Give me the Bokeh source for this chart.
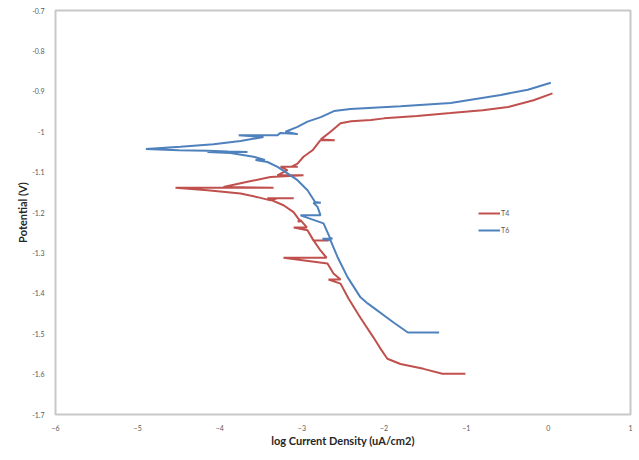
from bokeh.plotting import figure
from bokeh.models import Range1d, FixedTicker, CustomJSTickFormatter, Legend, LegendItem
from bokeh.embed import file_html
from bokeh.resources import INLINE

# T4 (red) polarization curve: log current density vs potential (V)
t4_logi = [-1.01, -1.29, -1.52, -1.80, -1.96, -2.05, -2.13, -2.29, -2.433,
           -2.530, -2.676, -2.530, -2.616, -2.689, -3.224, -2.70, -2.774, -2.859, -2.676, -2.86,
           -2.932, -3.10, -2.94, -3.017, -3.05, -3.02, -3.102, -3.224, -3.42, -3.10, -3.30,
           -3.383, -3.541, -3.748, -4.150, -4.539, -3.346, -3.955, -3.663, -3.383, -2.981,
           -3.30, -3.176, -3.26, -3.05, -3.13, -3.054, -2.981, -2.871, -2.774, -2.60, -2.77,
           -2.652, -2.530, -2.40, -2.16, -2.00, -1.60, -1.19, -0.80, -0.49, -0.18, 0.05]
t4_pot = [-1.599, -1.599, -1.587, -1.575, -1.562, -1.535, -1.509, -1.460, -1.413,
          -1.376, -1.366, -1.366, -1.351, -1.326, -1.312, -1.312, -1.294, -1.269, -1.269, -1.269,
          -1.244, -1.237, -1.237, -1.219, -1.222, -1.222, -1.199, -1.182, -1.165, -1.165, -1.165,
          -1.170, -1.162, -1.153, -1.145, -1.139, -1.139, -1.137, -1.124, -1.112, -1.108,
          -1.108, -1.095, -1.087, -1.087, -1.087, -1.079, -1.062, -1.046, -1.021, -1.021, -1.019,
          -1.000, -0.979, -0.974, -0.971, -0.967, -0.961, -0.954, -0.947, -0.939, -0.922, -0.905]

# T6 (blue)
t6_logi = [-1.33, -1.71, -1.88, -2.00, -2.08, -2.20, -2.287, -2.445, -2.567, -2.652,
           -2.75, -2.63, -2.66, -2.737, -3.017, -2.774, -2.810, -2.86, -2.77, -2.84, -2.932,
           -3.054, -3.176, -3.297, -3.419, -3.565, -3.45, -3.589, -3.869, -4.15, -3.663,
           -3.90, -4.15, -4.50, -4.90, -4.478, -4.076, -3.748, -3.468, -3.77, -3.30,
           -3.261, -3.05, -3.20, -3.054, -2.932, -2.77, -2.61, -2.41, -1.80, -1.19, -0.58,
           -0.25, 0.03]
t6_pot = [-1.497, -1.497, -1.473, -1.455, -1.443, -1.425, -1.410, -1.360, -1.310, -1.269,
          -1.265, -1.265, -1.262, -1.227, -1.207, -1.207, -1.186, -1.176, -1.176, -1.174, -1.145,
          -1.120, -1.103, -1.087, -1.075, -1.070, -1.070, -1.062, -1.053, -1.050, -1.050,
          -1.049, -1.047, -1.046, -1.043, -1.037, -1.031, -1.023, -1.013, -1.009, -1.009,
          -1.003, -1.006, -1.000, -0.988, -0.975, -0.964, -0.949, -0.944, -0.937, -0.929, -0.909,
          -0.896, -0.879]

x_ticks = [-6, -5, -4, -3, -2, -1, 0, 1]
y_ticks = [-1.7, -1.6, -1.5, -1.4, -1.3, -1.2, -1.1, -1.0, -0.9, -0.8, -0.7]
series_names = ["T4", "T6"]

RED = "#C0504D"
BLUE = "#4F81BD"
FONT = "Lato"

p = figure(width=639, height=460, output_backend="svg", toolbar_location=None,
           x_range=Range1d(-6, 1), y_range=Range1d(-1.7, -0.7),
           min_border_left=55, min_border_right=9, min_border_top=10, min_border_bottom=46)

r4 = p.line(t4_logi, t4_pot, line_color=RED, line_width=2)
r6 = p.line(t6_logi, t6_pot, line_color=BLUE, line_width=2)

p.xgrid.visible = False
p.ygrid.visible = False
p.outline_line_color = "#C8C8C8"
p.outline_line_width = 2
p.background_fill_color = "white"
p.border_fill_color = "white"

p.xaxis.ticker = FixedTicker(ticks=x_ticks)
p.yaxis.ticker = FixedTicker(ticks=y_ticks)
p.yaxis.formatter = CustomJSTickFormatter(code="return parseFloat(tick.toFixed(1)).toString();")
for ax in (p.xaxis[0], p.yaxis[0]):
    ax.axis_line_color = None
    ax.major_tick_line_color = None
    ax.minor_tick_line_color = None
    ax.major_label_text_font = FONT
    ax.major_label_text_font_size = "7px"
    ax.major_label_text_color = "#595959"
    ax.axis_label_text_font = FONT
    ax.axis_label_text_font_style = "bold"
    ax.axis_label_text_font_size = "11px"
    ax.axis_label_text_color = "#262626"

p.xaxis.axis_label = "log Current Density (uA/cm2)"
p.yaxis.axis_label = "Potential (V)"
p.xaxis.major_label_standoff = 4
p.yaxis.major_label_standoff = 5
p.xaxis.axis_label_standoff = 0
p.yaxis.axis_label_standoff = 0

legend = Legend(items=[LegendItem(label=series_names[0], renderers=[r4]),
                       LegendItem(label=series_names[1], renderers=[r6])],
                location=(423, 178), border_line_color=None, background_fill_alpha=0,
                label_text_font=FONT, label_text_font_size="7px", label_text_color="#595959",
                glyph_width=22, glyph_height=12, spacing=5, padding=0, margin=0,
                label_standoff=1)
p.add_layout(legend)

open("out.html", "w").write(file_html(p, INLINE))
